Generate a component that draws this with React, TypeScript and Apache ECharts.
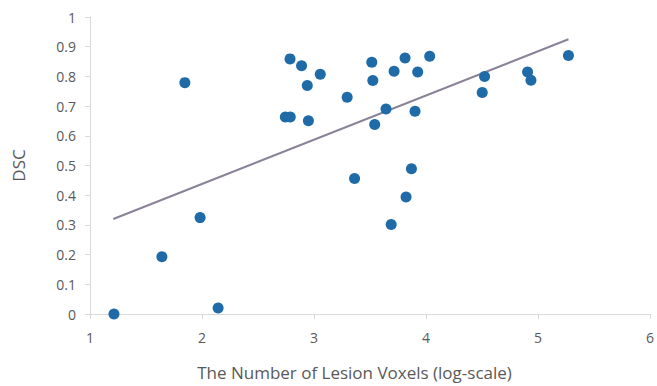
import React, { useEffect, useRef } from "react";
import * as echarts from "echarts";

const xValues = [
  1.214, 1.642, 1.847, 1.983, 2.144, 2.786, 2.889, 3.056, 2.94, 2.744, 2.788, 2.95,
  3.296, 3.516, 3.525, 3.715, 3.813, 4.033, 3.926, 3.643, 3.542, 3.902, 3.362, 3.87,
  3.822, 3.689, 4.523, 4.502, 4.907, 4.937, 5.272,
];
const yValues = [
  0.0, 0.193, 0.779, 0.3245, 0.02, 0.859, 0.836, 0.807, 0.769, 0.663, 0.663, 0.651,
  0.7295, 0.848, 0.786, 0.817, 0.862, 0.868, 0.815, 0.69, 0.638, 0.683, 0.456, 0.489,
  0.394, 0.301, 0.8, 0.746, 0.815, 0.787, 0.87,
];
const trendX = [1.208, 5.272];
const trendY = [0.32, 0.925];

const xTitle = "The Number of Lesion Voxels (log-scale)";
const yTitle = "DSC";

export default function App() {
  const ref = useRef<HTMLDivElement>(null);
  useEffect(() => {
    if (!ref.current) return;
    const chart = echarts.init(ref.current, undefined, { renderer: "svg" });
    const font = "'Open Sans', 'Liberation Sans', sans-serif";
    const axisLabel = { color: "#595959", fontSize: 14, fontFamily: font };
    chart.setOption({
      animation: false,
      grid: { left: 90, right: 6, top: 17, bottom: 67, containLabel: false },
      xAxis: {
        type: "value",
        min: 1,
        max: 6,
        interval: 1,
        name: xTitle,
        nameLocation: "middle",
        nameGap: 50,
        nameTextStyle: { color: "#595959", fontSize: 17, fontFamily: font, padding: [0, 31, 0, 0] },
        axisLine: { show: true, lineStyle: { color: "#d9d9d9", width: 1 } },
        axisTick: { show: true, length: 5, lineStyle: { color: "#d9d9d9" } },
        axisLabel: { ...axisLabel, margin: 16 },
        splitLine: { show: false },
      },
      yAxis: {
        type: "value",
        min: 0,
        max: 1,
        interval: 0.1,
        name: yTitle,
        nameLocation: "middle",
        nameGap: 63,
        nameTextStyle: { color: "#595959", fontSize: 17, fontFamily: font },
        axisLine: { show: true, lineStyle: { color: "#d9d9d9", width: 1 } },
        axisTick: { show: true, length: 5, lineStyle: { color: "#d9d9d9" } },
        axisLabel: { ...axisLabel, margin: 14 },
        splitLine: { show: false },
      },
      series: [
        {
          type: "line",
          data: trendX.map((x, i) => [x, trendY[i]]),
          showSymbol: false,
          symbol: "none",
          lineStyle: { color: "#8a8298", width: 2 },
          z: 1,
        },
        {
          type: "scatter",
          data: xValues.map((x, i) => [x, yValues[i]]),
          symbol: "circle",
          symbolSize: 11,
          itemStyle: { color: "#1f6ba8", opacity: 1 },
          z: 2,
        },
      ],
    });
    return () => chart.dispose();
  }, []);
  return <div ref={ref} style={{ width: 657, height: 386, position: "absolute", left: 0, top: 0 }} />;
}
